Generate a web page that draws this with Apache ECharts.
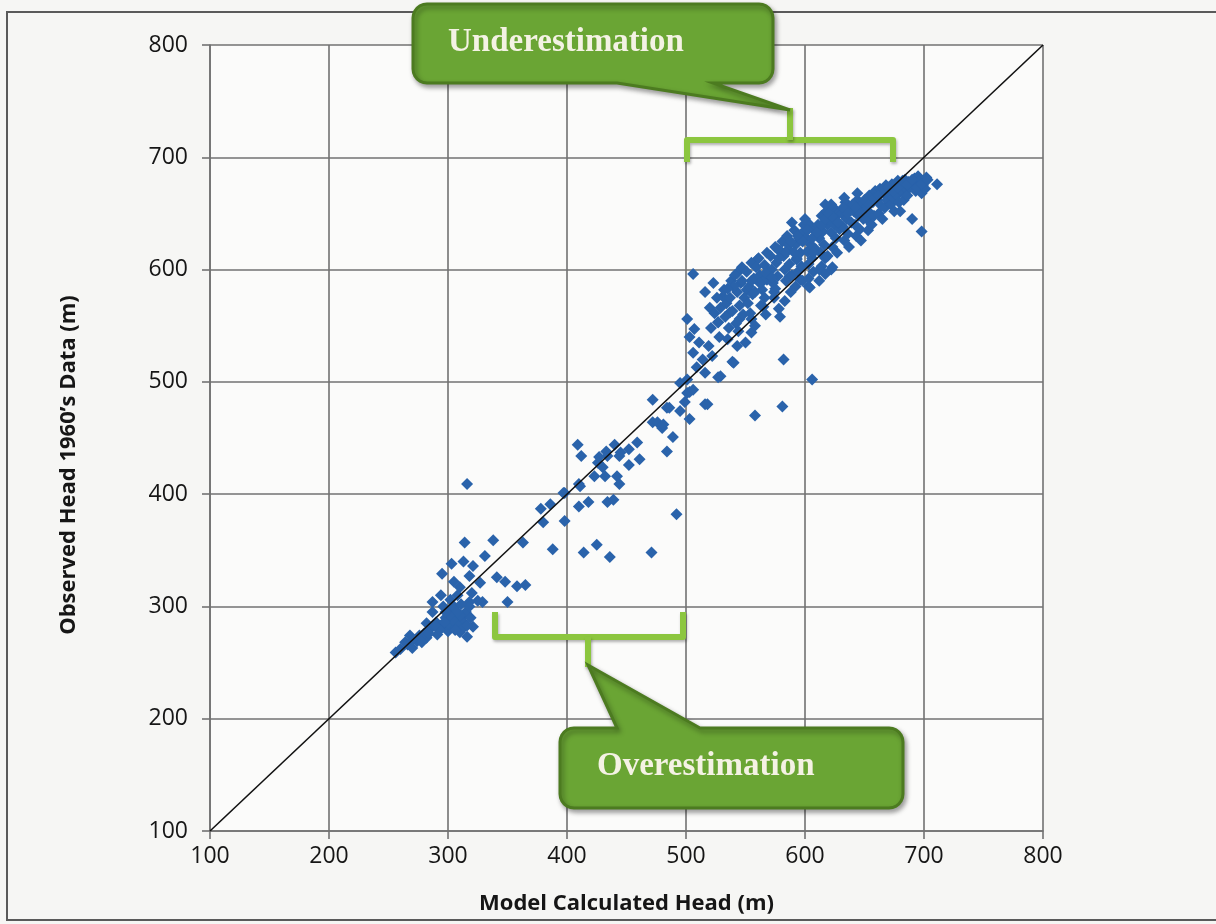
<!DOCTYPE html>
<html>
<head>
<meta charset="utf-8">
<title>Model vs Observed Head</title>
<script src="https://cdn.jsdelivr.net/npm/echarts@6/dist/echarts.min.js"></script>
<style>
  html, body { margin: 0; padding: 0; background: #f6f6f4; }
  #chart { width: 1216px; height: 924px; }
</style>
</head>
<body>
<div id="chart"></div>
<script>
// axis ticks (both axes share the same range)
const axisTicks = [100, 200, 300, 400, 500, 600, 700, 800];

// [model calculated head, observed head] in metres
const lowCluster = [
  [316,409],[314,357],[338,359],[295,329],[303,338],[313,340],[321,336],[331,345],
  [318,327],[327,321],[310,317],[341,326],[348,322],[329,304],[318,304],[350,304],
  [302,306],[287,304],[287,295],[306,291],[313,286],[310,277],[316,273],[299,280],
  [291,275],[282,272],[274,269],[266,266],[256,259],[304,282],[321,282],[260,262],
  [264,268],[270,270],[276,274],[280,276],[285,280],[290,286],[294,283],[298,290],
  [302,296],[305,300],[308,285],[312,290],[315,295],[318,300],[310,292],[300,278],
  [296,300],[308,310],[320,312],[325,305],[305,322],[294,310],[282,285],[270,263],
  [278,268],[268,274],[365,319],[363,357],[358,318],
  [300,285],[304,288],[308,295],[312,280],[316,283],[319,290],[301,292],[297,286],
  [293,279],[289,283],[284,276],[306,279],[311,302],[298,295]
];

const midCluster = [
  [388,351],[378,387],[386,391],[380,375],[398,376],[398,401],[409,444],[412,434],
  [410,409],[397,401],[434,393],[439,395],[418,393],[410,389],[414,348],[425,355],
  [436,344],[471,348],[492,382],[442,416],[444,409],[423,416],[430,424],[427,433],
  [433,438],[440,444],[444,434],[452,440],[459,446],[452,426],[472,464],[476,464],
  [480,459],[472,484],[484,477],[486,477],[489,451],[484,438],[495,474],[499,482],
  [501,490],[503,491],[495,499],[503,467],[481,462],[461,431],[445,437],[434,434],
  [426,428],[432,416],[411,407]
];

const upperBand = [
  [506,596],[516,580],[520,566],[501,556],[507,547],[503,540],[511,535],[519,532],
  [506,526],[514,520],[522,523],[509,513],[516,508],[501,502],[506,493],[516,480],
  [529,505],[540,517],[550,535],[543,532],[555,544],[579,558],[531,576],[537,562],
  [527,553],[545,556],[555,556],[565,567],[551,582],[543,597],[568,591],[560,609],
  [577,618],[593,609],[587,594],[574,580],[603,585],[596,591],
  [521,548],[524,561],[526,575],[523,588],[528,540],[529,566],[527,553],
  [532,582],[534,570],[536,548],[533,558],[538,590],[537,575],[535,538],[539,563],
  [541,595],[543,580],[545,568],[542,552],[547,602],[546,588],[548,560],[544,545],[549,575],
  [551,598],[553,585],[552,570],[555,606],[554,561],[557,592],[556,578],[558,550],[559,602],
  [561,610],[562,595],[564,582],[563,568],[566,604],[565,590],[567,560],[568,615],[569,598],[566,575],
  [571,612],[572,600],[573,588],[575,620],[574,575],[576,606],[577,594],[578,565],[579,617],[575,583],
  [581,625],[582,612],[583,600],[584,590],[585,630],[586,618],[587,605],[588,580],[589,595],[583,572],[586,622],
  [591,635],[592,622],[593,610],[594,598],[595,628],[596,615],[597,603],[598,590],[599,640],[592,585],[597,632],
  [601,628],[602,616],[603,605],[604,640],[605,622],[606,610],[607,598],[608,635],[609,618],[603,592],[600,645],
  [611,640],[612,628],[613,615],[614,648],[615,634],[616,622],[617,610],[618,652],[619,640],[614,603],[612,600],
  [621,645],[622,633],[623,620],[624,655],[625,640],[626,628],[627,615],[628,650],[629,636],[622,658],
  [631,650],[632,638],[633,626],[634,660],[635,645],[636,632],[637,620],[638,655],[639,642],[633,664],
  [641,652],[642,640],[643,630],[644,662],[645,648],[646,636],[647,626],[648,658],[649,645],[644,668],
  [651,655],[652,645],[653,635],[654,666],[655,650],[656,640],[657,660],[658,648],[659,670],
  [661,662],[662,650],[663,672],[664,657],[665,645],[666,668],[667,655],[668,675],[669,662],
  [671,668],[672,658],[673,676],[674,664],[675,652],[676,672],[677,666],[678,679],[679,660],
  [681,670],[682,676],[683,662],[684,680],[685,672],[686,666],[687,678],[688,673],
  [691,676],[692,681],[693,670],[694,678],[695,683],[696,674],[697,680],[698,668],
  [700,678],[701,672],[702,682],[699,675],
  [604,584],[612,590],[617,596],[622,600],[619,612],[607,615],[623,602],
  [562,588],[567,597],[572,593],[578,610],[584,615],[588,625],[591,615],[594,630],
  [598,625],[602,635],[606,628],[610,633],[614,640],[617,645],[620,650],[624,646],
  [628,642],[632,655],[636,650],[640,658],[643,655],[647,650],[650,662],[654,658],
  [658,663],[662,666],[666,672],[670,673],[674,670],[678,673],[682,679],[686,676],
  [690,680],[694,673],[698,676],[703,680],[555,590],[558,580],[547,590],[540,585],[535,583]
];

const outliers = [
  [711,676],[698,634],[690,645],[680,652],[606,502],[582,520],[581,478],[558,470],
  [518,480],[527,504],[539,518],[617,658],[589,642]
];

// 1:1 reference line
const oneToOneLine = [[100,100],[800,800]];

const AXIS_FONT = '"Open Sans", "Liberation Sans", sans-serif';
const CALLOUT_FONT = '"Liberation Serif", "DejaVu Serif", serif';
const axisGray = '#727272';

// rounded box with a pointer tail, returned as polygon points
function calloutPoints(x, y, w, h, r, tail) {
  const pts = [];
  const arc = (cx, cy, a0, a1) => {
    for (let i = 0; i <= 6; i++) {
      const a = a0 + (a1 - a0) * i / 6;
      pts.push([cx + r * Math.cos(a), cy + r * Math.sin(a)]);
    }
  };
  arc(x + r, y + r, Math.PI, Math.PI * 1.5);
  if (tail.side === 'top') {
    pts.push([tail.a, y], tail.tip, [tail.b, y]);
  }
  arc(x + w - r, y + r, Math.PI * 1.5, Math.PI * 2);
  arc(x + w - r, y + h - r, 0, Math.PI * 0.5);
  if (tail.side === 'bottom') {
    pts.push([tail.b, y + h], tail.tip, [tail.a, y + h]);
  }
  arc(x + r, y + h - r, Math.PI * 0.5, Math.PI);
  return pts;
}

const calloutStyle = {
  fill: '#6aa534',
  stroke: '#4c7b20',
  lineWidth: 3,
  shadowBlur: 5,
  shadowOffsetX: 2,
  shadowOffsetY: 3,
  shadowColor: 'rgba(0,0,0,0.35)'
};
const bracketStyle = {
  stroke: '#8cc63f',
  lineWidth: 6,
  fill: null,
  lineJoin: 'round',
  shadowBlur: 3,
  shadowOffsetX: 1,
  shadowOffsetY: 2,
  shadowColor: 'rgba(0,0,0,0.3)'
};

const chart = echarts.init(document.getElementById('chart'));

const option = {
  animation: false,
  backgroundColor: '#f6f6f4',
  grid: {
    left: 210,
    right: 173,
    top: 45,
    bottom: 93,
    show: true,
    backgroundColor: '#fbfbfa',
    borderWidth: 0
  },
  xAxis: {
    type: 'value',
    min: axisTicks[0],
    max: axisTicks[axisTicks.length - 1],
    interval: 100,
    name: 'Model Calculated Head (m)',
    nameLocation: 'middle',
    nameGap: 62,
    nameTextStyle: { fontFamily: AXIS_FONT, fontSize: 22, fontWeight: 'bold', color: '#161616' },
    axisLine: { lineStyle: { color: axisGray, width: 1.6 } },
    axisTick: { show: true, length: 8, lineStyle: { color: axisGray, width: 1.6 } },
    axisLabel: { fontFamily: AXIS_FONT, fontSize: 23, color: '#161616', margin: 14 },
    splitLine: { show: true, lineStyle: { color: axisGray, width: 1.6 } }
  },
  yAxis: {
    type: 'value',
    min: axisTicks[0],
    max: axisTicks[axisTicks.length - 1],
    interval: 100,
    name: 'Observed Head 1960\u2019s Data (m)',
    nameLocation: 'middle',
    nameGap: 130,
    nameTextStyle: {
      fontFamily: AXIS_FONT, fontSize: 22, fontWeight: 'bold', color: '#161616',
      padding: [0, 54, 0, 0]
    },
    axisLine: { show: true, lineStyle: { color: axisGray, width: 1.6 } },
    axisTick: { show: true, length: 8, lineStyle: { color: axisGray, width: 1.6 } },
    axisLabel: { fontFamily: AXIS_FONT, fontSize: 23, color: '#161616', margin: 22 },
    splitLine: { show: true, lineStyle: { color: axisGray, width: 1.6 } }
  },
  series: [
    {
      name: 'Heads',
      type: 'scatter',
      symbol: 'diamond',
      symbolSize: 12,
      itemStyle: { color: '#2a63ab', opacity: 1 },
      data: lowCluster.concat(midCluster, upperBand, outliers),
      z: 3
    },
    {
      name: '1:1',
      type: 'line',
      data: oneToOneLine,
      symbol: 'none',
      lineStyle: { color: '#111', width: 1.6 },
      z: 4
    }
  ],
  graphic: [
    // outer frame of the figure
    {
      type: 'rect', z: 0, silent: true,
      shape: { x: 7, y: 12, width: 1240, height: 908 },
      style: { fill: null, stroke: '#5a5a5a', lineWidth: 2 }
    },
    // underestimation bracket + callout
    {
      type: 'polyline', z: 50, silent: true,
      shape: { points: [[687, 162], [687, 140], [893, 140], [893, 162]] },
      style: bracketStyle
    },
    {
      type: 'line', z: 50, silent: true,
      shape: { x1: 790, y1: 140, x2: 790, y2: 108 },
      style: bracketStyle
    },
    {
      type: 'polygon', z: 60, silent: true,
      shape: { points: calloutPoints(413, 4, 360, 79, 14, { side: 'bottom', a: 617, b: 713, tip: [790, 110] }) },
      style: calloutStyle
    },
    {
      type: 'text', z: 61, silent: true,
      x: 448, y: 42,
      style: {
        text: 'Underestimation',
        fontFamily: CALLOUT_FONT, fontSize: 33, fontWeight: 'bold',
        fill: '#f4f2e4', align: 'left', verticalAlign: 'middle'
      }
    },
    // overestimation bracket + callout
    {
      type: 'polyline', z: 50, silent: true,
      shape: { points: [[495, 612], [495, 637], [683, 637], [683, 612]] },
      style: bracketStyle
    },
    {
      type: 'line', z: 50, silent: true,
      shape: { x1: 588, y1: 637, x2: 588, y2: 667 },
      style: bracketStyle
    },
    {
      type: 'polygon', z: 60, silent: true,
      shape: { points: calloutPoints(560, 728, 343, 80, 14, { side: 'top', a: 617, b: 700, tip: [588, 665] }) },
      style: calloutStyle
    },
    {
      type: 'text', z: 61, silent: true,
      x: 597, y: 766,
      style: {
        text: 'Overestimation',
        fontFamily: CALLOUT_FONT, fontSize: 33, fontWeight: 'bold',
        fill: '#f4f2e4', align: 'left', verticalAlign: 'middle'
      }
    }
  ]
};

chart.setOption(option);
</script>
</body>
</html>
